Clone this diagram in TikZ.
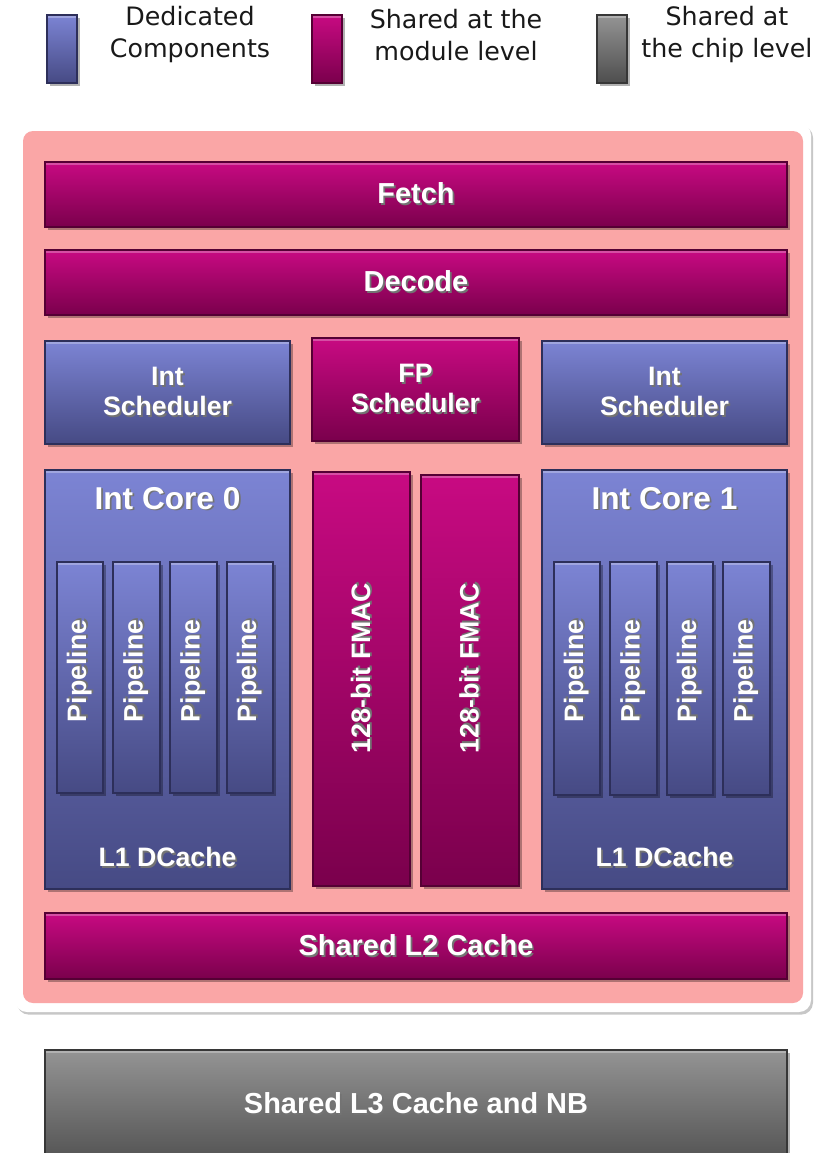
\documentclass[tikz,border=0pt]{standalone}
\usepackage{fontspec}
\setmainfont{Liberation Sans}
\newfontfamily\legfont{DejaVu Sans}
\usetikzlibrary{shadows}
\definecolor{magtop}{RGB}{200,10,130}
\definecolor{magbot}{RGB}{122,0,76}
\definecolor{magedge}{RGB}{85,0,52}
\definecolor{blutop}{RGB}{124,132,212}
\definecolor{blubot}{RGB}{70,74,132}
\definecolor{bluedge}{RGB}{45,47,90}
\definecolor{grytop}{RGB}{148,148,148}
\definecolor{grybot}{RGB}{78,78,78}
\definecolor{gryedge}{RGB}{55,55,55}
\definecolor{pinkbg}{RGB}{250,166,166}
\definecolor{legtext}{RGB}{25,25,25}
\newcommand\tsh[1]{\makebox[0pt][l]{\raisebox{-1.3pt}{\hspace{1.3pt}\textcolor{black!55}{#1}}}#1}
\newcommand\bx[7]{%
  \node[#2, minimum width={(#5-#3)*0.75pt}, minimum height={(#6-#4)*0.75pt}]
    (#1) at ({(#3+#5)/2},{(#4+#6)/2}) {#7};}
\tikzset{
  blockbase/.style={rectangle, inner sep=0pt, line width=0.8pt, text=white,
    align=center, font=\bfseries\fontsize{21.7}{26}\selectfont,
    drop shadow={shadow xshift=2.5pt, shadow yshift=-2.5pt, opacity=0.3, fill=black},
    path picture={\fill[white,opacity=0.28] (path picture bounding box.north west)
      rectangle ([yshift=-2.2pt]path picture bounding box.north east);}},
  magbox/.style={blockbase, top color=magtop, bottom color=magbot, draw=magedge},
  blubox/.style={blockbase, top color=blutop, bottom color=blubot, draw=bluedge},
  grybox/.style={blockbase, top color=grytop, bottom color=grybot, draw=gryedge},
  midtxt/.style={font=\bfseries\fontsize{20}{22.5}\selectfont},
  lbl/.style={text=white, inner sep=0pt, align=center, font=\bfseries\fontsize{20}{22.5}\selectfont},
  corelbl/.style={lbl, font=\bfseries\fontsize{23.7}{27}\selectfont},
  legtxt/.style={text=legtext, inner sep=0pt, align=center, font=\legfont\fontsize{19}{24}\selectfont},
}
\begin{document}
\begin{tikzpicture}[x=0.75pt, y=-0.75pt]
\useasboundingbox (0,0) rectangle (822,1153);
\fill[white] (0,0) rectangle (822,1153);
% legend
\bx{legA}{blubox}{47}{15}{77}{83}{}
\bx{legB}{magbox}{312}{15}{342}{83}{}
\bx{legC}{grybox}{597}{15}{627}{83}{}
\node[legtxt] (legAt) at (190,35) {Dedicated\\Components};
\node[legtxt] (legBt) at (456,35) {Shared at the\\module level};
\node[legtxt] (legCt) at (727,35) {Shared at\\the chip level};
% module panel
\node[rectangle, fill=white, rounded corners=9pt, minimum width={796*0.75pt}, minimum height={889*0.75pt},
  drop shadow={shadow xshift=1.5pt, shadow yshift=-2pt, opacity=0.22, fill=black}]
  (module) at (413,567.5) {};
\node[rectangle, fill=pinkbg, rounded corners=7.5pt, minimum width={780*0.75pt}, minimum height={872*0.75pt}]
  (modinner) at (413,567) {};
% blocks
\bx{fetch}{magbox}{45}{162}{787}{227}{\tsh{Fetch}}
\bx{decode}{magbox}{45}{250}{787}{315}{\tsh{Decode}}
\bx{isch0}{blubox,midtxt}{45}{341}{290}{444}{\tsh{Int}\\\tsh{Scheduler}}
\bx{fpsch}{magbox,midtxt}{312}{338}{519}{441}{\tsh{FP}\\\tsh{Scheduler}}
\bx{isch1}{blubox,midtxt}{542}{341}{787}{444}{\tsh{Int}\\\tsh{Scheduler}}
\bx{core0}{blubox}{45}{470}{290}{889}{}
\bx{fmac0}{magbox}{313}{472}{410}{886}{}
\bx{fmac1}{magbox}{421}{475}{519}{886}{}
\bx{core1}{blubox}{542}{470}{787}{889}{}
\bx{p00}{blubox}{57}{562}{103}{793}{}
\bx{p01}{blubox}{113}{562}{160}{793}{}
\bx{p02}{blubox}{170}{562}{217}{793}{}
\bx{p03}{blubox}{227}{562}{273}{793}{}
\bx{p10}{blubox}{554}{562}{600}{795}{}
\bx{p11}{blubox}{610}{562}{657}{795}{}
\bx{p12}{blubox}{667}{562}{713}{795}{}
\bx{p13}{blubox}{723}{562}{770}{795}{}
\bx{l2}{magbox}{45}{913}{787}{979}{\tsh{Shared L2 Cache}}
\bx{l3}{grybox}{45}{1050}{787}{1170}{}
\node[lbl, font=\bfseries\fontsize{21.7}{26}\selectfont] (l3t) at (416,1104) {\tsh{Shared L3 Cache and NB}};
% labels inside cores
\node[corelbl] (core0t) at (167.5,499) {\tsh{Int Core 0}};
\node[corelbl] (core1t) at (664.5,499) {\tsh{Int Core 1}};
\node[lbl] (l1d0) at (167.5,858) {\tsh{L1 DCache}};
\node[lbl] (l1d1) at (664.5,858) {\tsh{L1 DCache}};
\foreach \p/\xc in {p00/80,p01/136.5,p02/193.5,p03/250,p10/577,p11/633.5,p12/690,p13/746.5}
  \node[lbl, rotate=90] (\p t) at (\xc,671) {\tsh{Pipeline}};
\node[lbl, rotate=90] (fmac0t) at (361.5,668) {\tsh{128-bit FMAC}};
\node[lbl, rotate=90] (fmac1t) at (470,668) {\tsh{128-bit FMAC}};
\end{tikzpicture}
\end{document}
